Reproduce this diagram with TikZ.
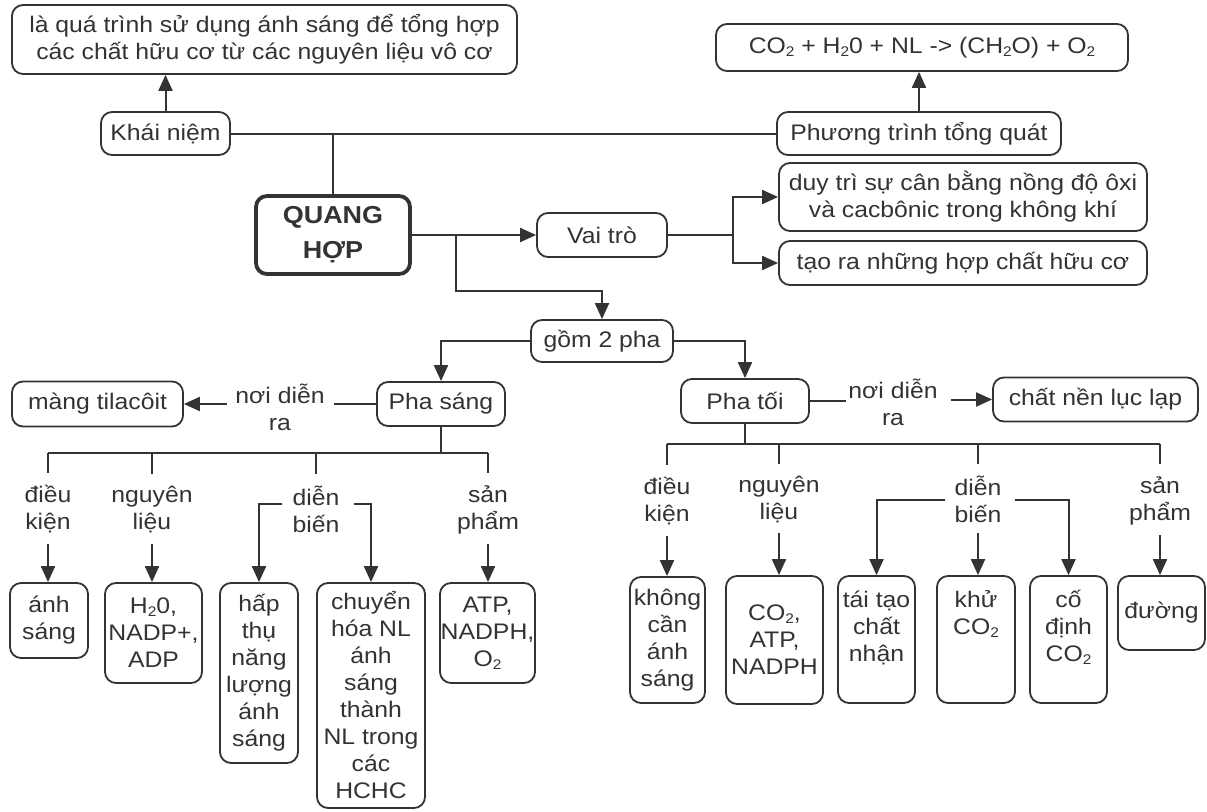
\documentclass[tikz,border=0pt]{standalone}
\usepackage{fontspec}
\setmainfont{Liberation Sans}[FakeStretch=1.1]
\usetikzlibrary{arrows.meta}
\definecolor{ink}{HTML}{333333}
\newcommand\fnt{\fontsize{22.5}{27}\selectfont}
\newcommand\subnum[1]{\raisebox{-0.12em}{\fontsize{14}{14}\selectfont #1}}
\begin{document}
\begin{tikzpicture}[x=1pt,y=-1pt,
  box/.style={draw=ink,line width=1.8pt,rounded corners=11pt,inner sep=0pt,align=center,font=\fnt,text=ink},
  lbl/.style={inner sep=0pt,align=center,font=\fnt,text=ink},
  ln/.style={draw=ink,line width=2pt},
  arr/.style={draw=ink,line width=2pt,-{Triangle[length=16pt,width=14pt]}}]
\useasboundingbox (0,0) rectangle (1207,811);
\fill[white] (0,0) rectangle (1207,811);
% top
\node[box,minimum width=505pt,minimum height=69pt] (def) at (264.5,39.5) {là quá trình sử dụng ánh sáng để tổng hợp\\các chất hữu cơ từ các nguyên liệu vô cơ};
\node[box,minimum width=129pt,minimum height=43pt] (khai) at (165.5,133.5) {Khái niệm};
\node[box,minimum width=284pt,minimum height=43pt] (pt) at (919,133.5) {Phương trình tổng quát};
\node[box,minimum width=412pt,minimum height=47pt] (co2) at (922,47.5) {CO\subnum{2} + H\subnum{2}0 + NL -> (CH\subnum{2}O) + O\subnum{2}};
\node[box,line width=3.8pt,minimum width=154pt,minimum height=78pt,font=\bfseries\fontsize{24.5}{35}\selectfont] (qh) at (333,235) {QUANG\\HỢP};
\node[box,minimum width=130pt,minimum height=44pt] (vai) at (602,235) {Vai trò};
\node[box,minimum width=368pt,minimum height=68pt] (duy) at (963,197) {duy trì sự cân bằng nồng độ ôxi\\và cacbônic trong không khí};
\node[box,minimum width=368pt,minimum height=44pt] (tao) at (963,263) {tạo ra những hợp chất hữu cơ};
\node[box,minimum width=142pt,minimum height=42pt] (gom) at (602,341) {gồm 2 pha};
% phases
\node[box,minimum width=128pt,minimum height=44pt] (psang) at (441,404) {Pha sáng};
\node[box,minimum width=171pt,minimum height=45pt] (mang) at (97.5,404) {màng tilacôit};
\node[lbl] (noi1) at (280,407) {nơi diễn\\ra};
\node[box,minimum width=128pt,minimum height=44pt] (ptoi) at (745,401) {Pha tối};
\node[lbl] (noi2) at (893,402) {nơi diễn\\ra};
\node[box,minimum width=205pt,minimum height=44pt] (cnen) at (1095.5,399.5) {chất nền lục lạp};
% labels left
\node[lbl] (l1) at (48,509.5) {điều\\kiện};
\node[lbl] (l2) at (152,510) {nguyên\\liệu};
\node[lbl] (l3) at (316,509.5) {diễn\\biến};
\node[lbl] (l4) at (488,509.5) {sản\\phẩm};
% labels right
\node[lbl] (r1) at (667,501.5) {điều\\kiện};
\node[lbl] (r2) at (779,499.5) {nguyên\\liệu};
\node[lbl] (r3) at (978,499.5) {diễn\\biến};
\node[lbl] (r4) at (1160,500.5) {sản\\phẩm};
% bottom left boxes
\node[box,minimum width=78pt,minimum height=75pt] (b1) at (49,620.5) {ánh\\sáng};
\node[box,minimum width=97pt,minimum height=100pt] (b2) at (153.5,633) {H\subnum{2}0,\\NADP+,\\ADP};
\node[box,minimum width=78pt,minimum height=180pt] (b3) at (259,673) {hấp\\thụ\\năng\\lượng\\ánh\\sáng};
\node[box,minimum width=108pt,minimum height=225pt] (b4) at (371,695.5) {chuyển\\hóa NL\\ánh\\sáng\\thành\\NL trong\\các\\HCHC};
\node[box,minimum width=95pt,minimum height=100pt] (b5) at (487.5,633) {ATP,\\NADPH,\\O\subnum{2}};
% bottom right boxes
\node[box,minimum width=75pt,minimum height=126pt] (c1) at (667.5,640) {không\\cần\\ánh\\sáng};
\node[box,minimum width=97pt,minimum height=128pt] (c2) at (774.5,640) {CO\subnum{2},\\ATP,\\NADPH};
\node[box,minimum width=77pt,minimum height=127pt] (c3) at (876.5,639.5) {tái tạo\\chất\\nhận\\~};
\node[box,minimum width=78pt,minimum height=127pt] (c4) at (976,639.5) {khử\\CO\subnum{2}\\~\\~};
\node[box,minimum width=77pt,minimum height=127pt] (c5) at (1068.5,639.5) {cố\\định\\CO\subnum{2}\\~};
\node[box,minimum width=87pt,minimum height=74pt] (c6) at (1161.5,613) {đường};
% connectors top
\draw[arr] (khai.north) -- (khai.north |- def.south);
\draw[ln] (khai.east) -- (pt.west);
\draw[ln] (qh.north) -- (qh.north |- khai.east);
\draw[arr] (pt.north) -- (pt.north |- co2.south);
\draw[arr] (qh.east) -- (vai.west);
\coordinate (vj) at (733,235);
\draw[ln] (vai.east) -- (vj);
\draw[arr] (vj) |- (duy.west);
\draw[arr] (vj) |- (tao.west);
\coordinate (qb) at (456,235);
\coordinate (qb2) at (456,291);
\draw[arr] (qb) -- (qb2) -| (gom.north);
\draw[arr] (gom.west) -| (psang.north);
\draw[arr] (gom.east) -| (ptoi.north);
\draw[ln] (psang.west) -- ([xshift=9pt]noi1.east |- psang.west);
\draw[arr] ([xshift=-8pt]noi1.west |- mang.east) -- (mang.east);
\draw[ln] (ptoi.east) -- ([xshift=-2pt]noi2.west |- ptoi.east);
\draw[arr] ([xshift=13pt]noi2.east |- cnen.west) -- (cnen.west);
% left tree
\coordinate (hL) at (48,453);
\coordinate (hR) at (488,453);
\draw[ln] (psang.south) -- (psang.south |- hL);
\draw[ln] (hL) -- (hR);
\draw[ln] (hL) -- ([yshift=12pt]l1.north);
\draw[ln] (l2 |- hL) -- ([yshift=12pt]l2.north);
\draw[ln] (l3 |- hL) -- ([yshift=12pt]l3.north);
\draw[ln] (hR) -- ([yshift=12pt]l4.north);
\draw[arr] ([yshift=-10pt]l1.south) -- (l1.south |- b1.north);
\draw[arr] ([yshift=-10pt]l2.south) -- (l2.south |- b2.north);
\draw[arr] ([yshift=-10pt]l4.south) -- (l4.south |- b5.north);
\draw[arr] ([xshift=-10pt,yshift=5.5pt]l3.west) -| (b3.north);
\draw[arr] ([xshift=14pt,yshift=5.5pt]l3.east) -| (b4.north);
% right tree
\coordinate (rL) at (667,444);
\coordinate (rR) at (1160,444);
\draw[ln] (ptoi.south) -- (ptoi.south |- rL);
\draw[ln] (rL) -- (rR);
\draw[ln] (rL) -- ([yshift=12pt]r1.north);
\draw[ln] (r2 |- rL) -- ([yshift=12pt]r2.north);
\draw[ln] (r3 |- rL) -- ([yshift=12pt]r3.north);
\draw[ln] (rR) -- ([yshift=12pt]r4.north);
\draw[arr] ([yshift=-10pt]r1.south) -- (r1.south |- c1.north);
\draw[arr] ([yshift=-10pt]r2.south) -- (r2.south |- c2.north);
\draw[arr] ([yshift=-10pt]r3.south) -- (r3.south |- c4.north);
\draw[arr] ([yshift=-10pt]r4.south) -- (r4.south |- c6.north);
\draw[arr] ([xshift=-9pt]r3.west) -| (c3.north);
\draw[arr] ([xshift=13pt]r3.east) -| (c5.north);
\end{tikzpicture}
\end{document}
